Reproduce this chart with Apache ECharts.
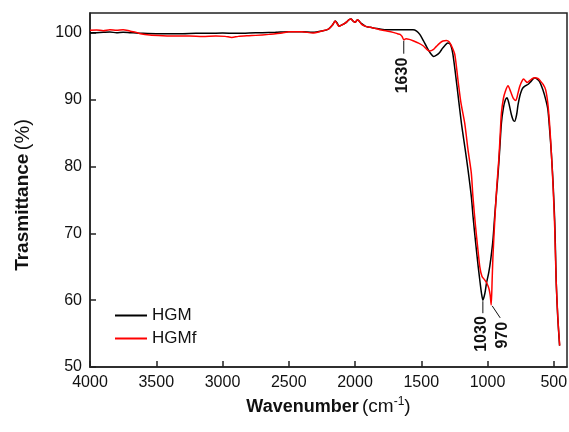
<!DOCTYPE html>
<html>
<head>
<meta charset="utf-8">
<script src="https://cdn.jsdelivr.net/npm/echarts@6/dist/echarts.min.js"></script>
<style>
html,body{margin:0;padding:0;background:#fff;}
#c{width:569px;height:432px;}
</style>
</head>
<body>
<div id="c"></div>
<script>
// ---- data ----
const seriesNames = ['HGM', 'HGMf'];
const xTicks = [4000, 3500, 3000, 2500, 2000, 1500, 1000, 500];
const yTicks = [50, 60, 70, 80, 90, 100];

const hgmWavenumber = [4000, 3950, 3900, 3850, 3800, 3750, 3700, 3650, 3600, 3500, 3400, 3300, 3200, 3100, 3000, 2900, 2800, 2700, 2600, 2500, 2400, 2320, 2250, 2200, 2170, 2150, 2135, 2120, 2100, 2080, 2060, 2045, 2030, 2015, 2000, 1990, 1980, 1965, 1950, 1920, 1900, 1870, 1850, 1813, 1760, 1700, 1650, 1600, 1562, 1535, 1511, 1485, 1461, 1435, 1406, 1385, 1361, 1340, 1323, 1300, 1280, 1261, 1230, 1197, 1170, 1147, 1122, 1109, 1089, 1070, 1055, 1045, 1035, 1020, 1008, 990, 975, 959, 946, 930, 920, 908, 895, 880, 865, 853, 840, 820, 805, 795, 780, 770, 757, 745, 732, 715, 695, 670, 644, 625, 606, 582, 560, 544, 531, 518, 505, 493, 487, 481, 470, 456];
const hgmTransmittance = [100.0, 100.05, 100.1, 100.15, 100.05, 100.1, 100.05, 100.0, 99.95, 99.9, 99.9, 99.9, 99.95, 99.95, 100.0, 99.95, 100.0, 100.05, 100.1, 100.2, 100.2, 100.1, 100.3, 100.6, 101.2, 101.8, 101.5, 101.0, 101.2, 101.4, 101.7, 102.0, 102.1, 101.8, 101.6, 101.8, 102.0, 101.7, 101.4, 101.0, 100.9, 100.8, 100.7, 100.6, 100.5, 100.5, 100.5, 100.5, 100.5, 100.3, 99.8, 98.9, 98.0, 97.1, 96.5, 96.7, 97.1, 97.7, 98.1, 98.5, 98.3, 96.8, 92.0, 86.5, 82.8, 79.5, 75.5, 72.5, 68.5, 65.0, 62.5, 61.0, 60.0, 61.0, 62.5, 64.2, 66.2, 69.0, 72.5, 76.5, 79.0, 82.5, 86.5, 88.8, 90.0, 90.3, 89.6, 87.8, 86.9, 86.8, 87.8, 89.2, 90.5, 91.3, 91.8, 92.1, 92.3, 92.8, 93.3, 93.1, 92.7, 91.5, 90.0, 88.5, 85.5, 82.0, 77.5, 72.0, 67.5, 62.5, 57.5, 53.2];

const hgmfWavenumber = [4000, 3950, 3900, 3850, 3800, 3750, 3700, 3650, 3620, 3550, 3450, 3350, 3250, 3150, 3050, 2980, 2930, 2880, 2800, 2750, 2650, 2600, 2550, 2500, 2400, 2320, 2250, 2200, 2170, 2150, 2135, 2120, 2100, 2080, 2060, 2045, 2030, 2015, 2000, 1990, 1980, 1965, 1950, 1920, 1900, 1870, 1850, 1813, 1760, 1713, 1680, 1660, 1645, 1632, 1615, 1590, 1562, 1520, 1486, 1460, 1436, 1410, 1386, 1360, 1336, 1310, 1290, 1270, 1247, 1220, 1200, 1172, 1147, 1122, 1110, 1090, 1072, 1058, 1042, 1020, 1004, 990, 980, 972, 965, 959, 945, 930, 915, 905, 895, 880, 865, 845, 825, 805, 787, 770, 757, 740, 727, 712, 702, 680, 660, 644, 620, 600, 580, 561, 545, 530, 518, 505, 493, 482, 468, 455];
const hgmfTransmittance = [100.4, 100.45, 100.35, 100.5, 100.4, 100.5, 100.3, 100.1, 99.9, 99.7, 99.6, 99.55, 99.55, 99.5, 99.55, 99.5, 99.35, 99.5, 99.6, 99.65, 99.8, 99.9, 100.0, 100.2, 100.2, 100.0, 100.3, 100.6, 101.2, 101.8, 101.4, 101.0, 101.2, 101.4, 101.7, 102.0, 102.1, 101.8, 101.6, 101.8, 102.0, 101.7, 101.3, 101.0, 100.9, 100.8, 100.7, 100.5, 100.3, 100.1, 99.9, 99.8, 99.5, 99.0, 99.15, 99.05, 98.85, 98.5, 98.1, 97.6, 97.3, 97.5, 98.0, 98.5, 98.8, 98.9, 98.7, 98.0, 96.8, 92.5, 89.5, 86.5, 82.5, 79.0, 75.5, 71.0, 67.5, 65.0, 63.6, 63.0, 62.5, 61.8, 60.8, 59.3, 63.0, 66.5, 72.0, 77.0, 81.0, 84.5, 88.0, 90.2, 91.3, 92.1, 91.2, 90.2, 89.9, 91.0, 92.0, 92.8, 93.1, 92.8, 92.6, 92.9, 93.2, 93.3, 93.2, 92.8, 92.3, 91.5, 89.5, 86.0, 82.0, 77.0, 71.0, 63.0, 57.0, 53.2];

// annotated bands: [wavenumber, transmittance of the marked curve, label]
const band1630 = [1632, 99.0, '1630'];
const band1030 = [1035, 60.0, '1030'];
const band970 = [972, 59.3, '970'];

// ---- chart ----
const FONT = '"Liberation Sans", Arial, sans-serif';
const zip = (xs, ys) => xs.map((x, i) => [x, ys[i]]);

const chart = echarts.init(document.getElementById('c'), null, {renderer: 'canvas'});
chart.setOption({
  animation: false,
  backgroundColor: '#fff',
  grid: {left: 90, right: 2, top: 13, bottom: 65, containLabel: false, outerBoundsMode: 'none',
    show: true, borderColor: '#222', borderWidth: 1.5, backgroundColor: 'transparent'},
  legend: {
    data: seriesNames,
    orient: 'vertical',
    left: 115, top: 306,
    padding: 0,
    icon: 'rect',
    itemWidth: 32, itemHeight: 2, itemGap: 4,
    textStyle: {fontFamily: FONT, fontSize: 17, color: '#111', lineHeight: 19}
  },
  xAxis: {
    type: 'value', inverse: true, min: 400, max: 4000,
    name: '{b|Wavenumber} {n|(cm}{s|-1}{n|)}',
    nameLocation: 'middle', nameGap: 25,
    nameTextStyle: {
      rich: {
        b: {fontFamily: FONT, fontSize: 18, fontWeight: 'bold', color: '#111', lineHeight: 22},
        n: {fontFamily: FONT, fontSize: 19, color: '#111', lineHeight: 22},
        s: {fontFamily: FONT, fontSize: 12, color: '#111', verticalAlign: 'top', lineHeight: 12}
      }
    },
    axisLine: {show: true, lineStyle: {color: '#222', width: 1.5}},
    axisTick: {show: true, inside: true, length: 6, lineStyle: {color: '#222', width: 1.5}, customValues: xTicks},
    axisLabel: {show: true, margin: 8, fontFamily: FONT, fontSize: 16, color: '#111', customValues: xTicks,
      formatter: v => String(v)},
    splitLine: {show: false}
  },
  yAxis: {
    type: 'value', min: 50, max: 103,
    name: '{b|Trasmittance} {n|(%)}',
    nameLocation: 'middle', nameGap: 57, nameRotate: 90,
    nameTextStyle: {
      padding: [0, 10, 0, 0],
      rich: {
        b: {fontFamily: FONT, fontSize: 19, fontWeight: 'bold', color: '#111'},
        n: {fontFamily: FONT, fontSize: 20, color: '#111'}
      }
    },
    axisLine: {show: true, lineStyle: {color: '#222', width: 1.5}},
    axisTick: {show: true, inside: true, length: 6, lineStyle: {color: '#222', width: 1.5}, customValues: yTicks},
    axisLabel: {show: true, margin: 8, fontFamily: FONT, fontSize: 16, color: '#111', customValues: yTicks,
      formatter: v => String(v)},
    splitLine: {show: false}
  },
  series: [
    {
      name: 'HGM', type: 'line', data: zip(hgmWavenumber, hgmTransmittance),
      symbol: 'none', smooth: 0.25,
      lineStyle: {color: '#000', width: 1.5}, itemStyle: {color: '#000'}
    },
    {
      name: 'HGMf', type: 'line', data: zip(hgmfWavenumber, hgmfTransmittance),
      symbol: 'none', smooth: 0.25,
      lineStyle: {color: '#ff0000', width: 1.5}, itemStyle: {color: '#ff0000'}
    }
  ]
});

// annotations positioned through the chart's own scales
function px(b) { return chart.convertToPixel({gridIndex: 0}, [b[0], b[1]]); }
const labelFont = 'bold 16px ' + FONT;
const g = [];
function vText(x, y, t) {
  g.push({type: 'text', x: x, y: y, rotation: Math.PI / 2,
    style: {text: t, font: labelFont, fill: '#111', align: 'right', verticalAlign: 'middle'}});
}
const a = px(band1630);
g.push({type: 'line', shape: {x1: a[0], y1: a[1] + 1, x2: a[0], y2: a[1] + 14}, style: {stroke: '#111', lineWidth: 1}});
vText(a[0] - 1, a[1] + 18, band1630[2]);
const b = px(band1030);
g.push({type: 'line', shape: {x1: b[0], y1: b[1] + 1, x2: b[0], y2: b[1] + 13}, style: {stroke: '#111', lineWidth: 1}});
vText(b[0] - 1, b[1] + 16, band1030[2]);
const c = px(band970);
g.push({type: 'line', shape: {x1: c[0] + 1, y1: c[1] + 1, x2: c[0] + 9, y2: c[1] + 13}, style: {stroke: '#111', lineWidth: 1}});
vText(c[0] + 11, c[1] + 17, band970[2]);
chart.setOption({graphic: g});
</script>
</body>
</html>
